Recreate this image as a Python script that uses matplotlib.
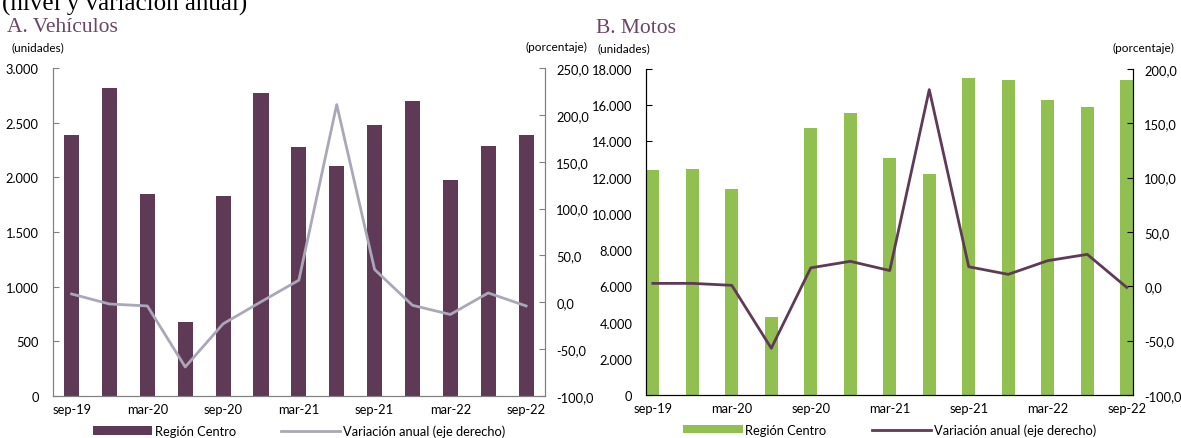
import matplotlib.pyplot as plt
from matplotlib.ticker import FuncFormatter

plt.rcParams['font.family'] = ['Lato', 'DejaVu Sans']

# datos (trimestres)
fechas = ['sep-19', 'dic-19', 'mar-20', 'jun-20', 'sep-20', 'dic-20', 'mar-21',
          'jun-21', 'sep-21', 'dic-21', 'mar-22', 'jun-22', 'sep-22']
vehiculos = [2385, 2815, 1845, 680, 1825, 2775, 2275, 2100, 2478, 2700, 1975, 2287, 2390]
var_vehiculos = [8.9, -1.8, -3.9, -69.0, -23.0, 0.5, 23.6, 211.0, 35.0, -3.2, -13.0, 10.0, -3.9]
motos = [12440, 12500, 11400, 4330, 14730, 15580, 13070, 12210, 17520, 17390, 16270, 15900, 17390]
var_motos = [2.7, 2.7, 0.9, -57.0, 17.0, 23.0, 14.5, 181.0, 18.0, 11.0, 23.6, 29.4, -1.0]

morado = '#5f3a56'
verde = '#92c050'
gris_linea = '#aaa7b9'
titulo_color = '#6b4565'
fs = 9.3


def miles(v, pos):
    return f'{v:,.0f}'.replace(',', '.')


def pct(v, pos):
    return f'{v:.1f}'.replace('.', ',')


def panel(rect, barras, linea, color_bar, color_lin, ylim, yticks, y2lim, y2ticks,
          xlim, ancho, spine_color, titulo, x_unid, x_tit):
    ax = fig.add_axes(rect)
    x = list(range(len(fechas)))
    b = ax.bar(x, barras, width=ancho, color=color_bar, label='Región Centro', zorder=2)
    ax.set_xlim(*xlim)
    ax.set_ylim(*ylim)
    ax.set_yticks(yticks)
    ax.yaxis.set_major_formatter(FuncFormatter(miles))
    ax.set_xticks(x[::2])
    ax.set_xticklabels(fechas[::2])
    ax.tick_params(axis='x', length=0, pad=5, labelsize=fs)
    ax.tick_params(axis='y', direction='in', length=4, labelsize=fs, pad=10, color=spine_color)
    ax.spines['top'].set_visible(False)
    for s in ['left', 'bottom', 'right']:
        ax.spines[s].set_color(spine_color)

    ax2 = ax.twinx()
    l, = ax2.plot(x, linea, color=color_lin, lw=2, label='Variación anual (eje derecho)', zorder=3)
    ax2.set_ylim(*y2lim)
    ax2.set_yticks(y2ticks)
    ax2.yaxis.set_major_formatter(FuncFormatter(pct))
    ax2.tick_params(axis='y', direction='in', length=4, labelsize=fs, pad=8, color=spine_color)
    ax2.spines['top'].set_visible(False)
    for s in ['left', 'bottom', 'right']:
        ax2.spines[s].set_color(spine_color)

    ax.legend([b, l], ['Región Centro', 'Variación anual (eje derecho)'],
              loc='upper center', bbox_to_anchor=(0.5, -0.071), ncol=2, frameon=False,
              handlelength=4.6, handleheight=0.6, handletextpad=0.2, columnspacing=3.5,
              fontsize=fs, borderaxespad=0)

    ax.text(x_unid, 1.065, '(unidades)', transform=ax.transAxes, fontsize=8.5, ha='left', va='center')
    ax2.text(1.085, 1.065, '(porcentaje)', transform=ax2.transAxes, fontsize=8.5, ha='right', va='center')
    ax.text(x_tit, 1.127, titulo, transform=ax.transAxes, fontsize=15.5, ha='left', va='center',
            color=titulo_color, family=['Liberation Serif', 'DejaVu Serif'])
    return ax


fig = plt.figure(figsize=(11.81, 4.39), dpi=100)

fig.text(0.002, 1 - 11 / 439, '(nivel y variación anual)', fontsize=18, ha='left', va='baseline',
         family=['Liberation Serif', 'DejaVu Serif'])

panel([0.0446, 0.0957, 0.4169, 0.747], vehiculos, var_vehiculos, morado, gris_linea,
      (0, 3000), range(0, 3001, 500), (-100, 250), range(-100, 251, 50),
      (-0.5, 12.5), 0.4, '#808080', 'A. Vehículos', -0.083, -0.092)

panel([0.5474, 0.098, 0.412, 0.7426], motos, var_motos, verde, morado,
      (0, 18000), range(0, 18001, 2000), (-100, 200), range(-100, 201, 50),
      (-0.16, 12.16), 0.32, '#000000', 'B. Motos', -0.1, -0.104)

fig.savefig('out.png', dpi=100)
